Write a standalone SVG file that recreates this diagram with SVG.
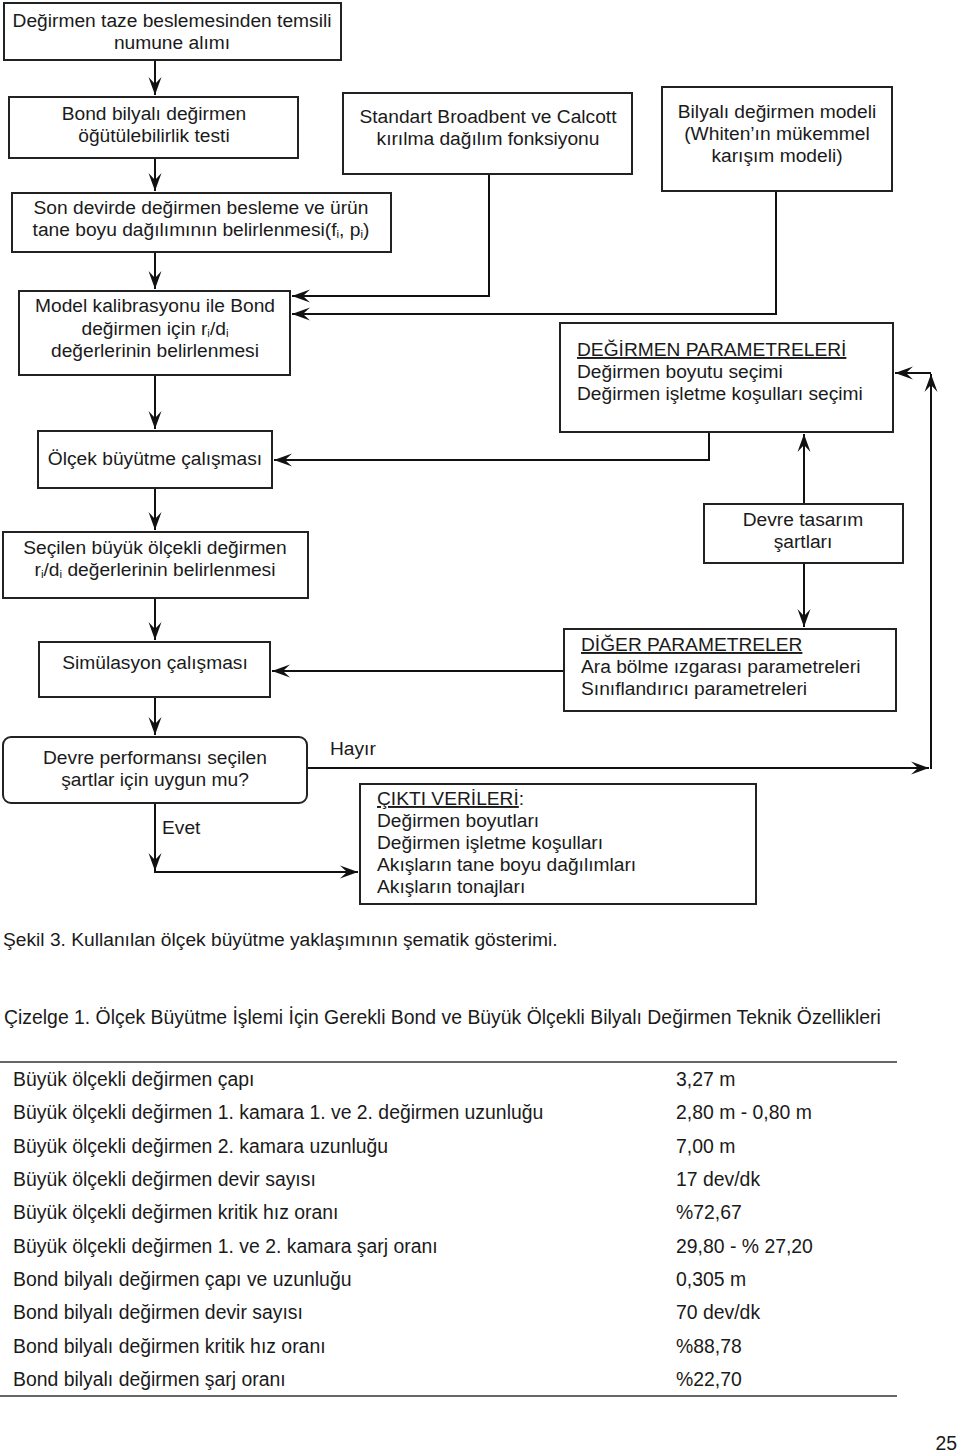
<svg xmlns="http://www.w3.org/2000/svg" width="960" height="1456" viewBox="0 0 960 1456">
<style>
.box{fill:#fff;stroke:#222;stroke-width:2}
.t{font-family:"Liberation Sans",Arial,sans-serif;font-size:19.2px;fill:#1a1a1a}
.c{text-anchor:middle}
.sub{font-size:11.5px}
.con{fill:none;stroke:#111;stroke-width:2}
.tb{font-family:"Liberation Sans",Arial,sans-serif;font-size:19.4px;fill:#1a1a1a}
.rule{stroke:#333;stroke-width:1.6}
</style>
<defs>
<marker id="ah" viewBox="-19 -8 20 16" refX="0" refY="0" markerWidth="20" markerHeight="16" markerUnits="userSpaceOnUse" orient="auto">
<path d="M0,0 L-18,-6.5 L-11,0 L-18,6.5 Z" fill="#111"/>
</marker>
</defs>
<rect width="960" height="1456" fill="#fff"/>

<g id="connectors">
<path class="con" d="M155,60 V95" marker-end="url(#ah)"/>
<path class="con" d="M155,158 V191" marker-end="url(#ah)"/>
<path class="con" d="M155,252 V289" marker-end="url(#ah)"/>
<path class="con" d="M489,174 V296 H292" marker-end="url(#ah)"/>
<path class="con" d="M776,191 V314 H292" marker-end="url(#ah)"/>
<path class="con" d="M155,375 V429" marker-end="url(#ah)"/>
<path class="con" d="M709,432 V460 H274" marker-end="url(#ah)"/>
<path class="con" d="M155,488 V530" marker-end="url(#ah)"/>
<path class="con" d="M804,504 V434" marker-end="url(#ah)"/>
<path class="con" d="M804,563 V627" marker-end="url(#ah)"/>
<path class="con" d="M564,671 H272" marker-end="url(#ah)"/>
<path class="con" d="M155,598 V640" marker-end="url(#ah)"/>
<path class="con" d="M155,697 V735" marker-end="url(#ah)"/>
<path class="con" d="M307,768 H929" marker-end="url(#ah)"/>
<path class="con" d="M931,769 V374" marker-end="url(#ah)"/>
<path class="con" d="M931,373 H895" marker-end="url(#ah)"/>
<path class="con" d="M155,803 V871" marker-end="url(#ah)"/>
<path class="con" d="M154,872 H358" marker-end="url(#ah)"/>
<text class="t" x="330" y="755">Hayır</text>
<text class="t" x="162" y="834">Evet</text>
</g>

<g id="n1">
<rect class="box" x="4" y="3" width="337" height="57"/>
<text class="t c" x="172" y="27">Değirmen taze beslemesinden temsili</text>
<text class="t c" x="172" y="49">numune alımı</text>
</g>
<g id="n2">
<rect class="box" x="9" y="97" width="289" height="61"/>
<text class="t c" x="154" y="120">Bond bilyalı değirmen</text>
<text class="t c" x="154" y="142">öğütülebilirlik testi</text>
</g>
<g id="n3">
<rect class="box" x="343" y="93" width="289" height="81"/>
<text class="t c" x="488" y="123">Standart Broadbent ve Calcott</text>
<text class="t c" x="488" y="145">kırılma dağılım fonksiyonu</text>
</g>
<g id="n4">
<rect class="box" x="662" y="87" width="230" height="104"/>
<text class="t c" x="777" y="118">Bilyalı değirmen modeli</text>
<text class="t c" x="777" y="140">(Whiten’ın mükemmel</text>
<text class="t c" x="777" y="162">karışım modeli)</text>
</g>
<g id="n5">
<rect class="box" x="12" y="193" width="379" height="59"/>
<text class="t c" x="201" y="214">Son devirde değirmen besleme ve ürün</text>
<text class="t c" x="201" y="236">tane boyu dağılımının belirlenmesi(f<tspan class="sub" dy="2">i</tspan><tspan dy="-2">, p</tspan><tspan class="sub" dy="2">i</tspan><tspan dy="-2">)</tspan></text>
</g>
<g id="n6">
<rect class="box" x="19" y="291" width="271" height="84"/>
<text class="t c" x="155" y="312">Model kalibrasyonu ile Bond</text>
<text class="t c" x="155" y="335">değirmen için r<tspan class="sub" dy="2">i</tspan><tspan dy="-2">/d</tspan><tspan class="sub" dy="2">i</tspan></text>
<text class="t c" x="155" y="357">değerlerinin belirlenmesi</text>
</g>
<g id="n7">
<rect class="box" x="560" y="323" width="333" height="109"/>
<text class="t" x="577" y="356" text-decoration="underline">DEĞİRMEN PARAMETRELERİ</text>
<text class="t" x="577" y="378">Değirmen boyutu seçimi</text>
<text class="t" x="577" y="400">Değirmen işletme koşulları seçimi</text>
</g>
<g id="n8">
<rect class="box" x="38" y="431" width="234" height="57"/>
<text class="t c" x="155" y="465">Ölçek büyütme çalışması</text>
</g>
<g id="n9">
<rect class="box" x="3" y="532" width="305" height="66"/>
<text class="t c" x="155" y="554">Seçilen büyük ölçekli değirmen</text>
<text class="t c" x="155" y="576">r<tspan class="sub" dy="2">i</tspan><tspan dy="-2">/d</tspan><tspan class="sub" dy="2">i</tspan><tspan dy="-2"> değerlerinin belirlenmesi</tspan></text>
</g>
<g id="n10">
<rect class="box" x="704" y="504" width="199" height="59"/>
<text class="t c" x="803" y="526">Devre tasarım</text>
<text class="t c" x="803" y="548">şartları</text>
</g>
<g id="n11">
<rect class="box" x="564" y="629" width="332" height="82"/>
<text class="t" x="581" y="651" text-decoration="underline">DİĞER PARAMETRELER</text>
<text class="t" x="581" y="673">Ara bölme ızgarası parametreleri</text>
<text class="t" x="581" y="695">Sınıflandırıcı parametreleri</text>
</g>
<g id="n12">
<rect class="box" x="39" y="642" width="231" height="55"/>
<text class="t c" x="155" y="669">Simülasyon çalışması</text>
</g>
<g id="n13">
<rect class="box" x="3" y="737" width="304" height="66" rx="8" ry="8"/>
<text class="t c" x="155" y="764">Devre performansı seçilen</text>
<text class="t c" x="155" y="786">şartlar için uygun mu?</text>
</g>
<g id="n14">
<rect class="box" x="360" y="784" width="396" height="120"/>
<text class="t" x="377" y="805"><tspan text-decoration="underline">ÇIKTI VERİLERİ</tspan>:</text>
<text class="t" x="377" y="827">Değirmen boyutları</text>
<text class="t" x="377" y="849">Değirmen işletme koşulları</text>
<text class="t" x="377" y="871">Akışların tane boyu dağılımları</text>
<text class="t" x="377" y="893">Akışların tonajları</text>
</g>

<g id="caption">
<text class="t" x="3" y="946">Şekil 3. Kullanılan ölçek büyütme yaklaşımının şematik gösterimi.</text>
</g>

<g id="table">
<text class="tb" x="4" y="1024">Çizelge 1. Ölçek Büyütme İşlemi İçin Gerekli Bond ve Büyük Ölçekli Bilyalı Değirmen Teknik Özellikleri</text>
<line class="rule" x1="0" y1="1062" x2="897" y2="1062"/>
<line class="rule" x1="0" y1="1396" x2="897" y2="1396"/>
<text class="tb" x="13" y="1086">Büyük ölçekli değirmen çapı</text>
<text class="tb" x="676" y="1086">3,27 m</text>
<text class="tb" x="13" y="1119">Büyük ölçekli değirmen 1. kamara 1. ve 2. değirmen uzunluğu</text>
<text class="tb" x="676" y="1119">2,80 m - 0,80 m</text>
<text class="tb" x="13" y="1153">Büyük ölçekli değirmen 2. kamara uzunluğu</text>
<text class="tb" x="676" y="1153">7,00 m</text>
<text class="tb" x="13" y="1186">Büyük ölçekli değirmen devir sayısı</text>
<text class="tb" x="676" y="1186">17 dev/dk</text>
<text class="tb" x="13" y="1219">Büyük ölçekli değirmen kritik hız oranı</text>
<text class="tb" x="676" y="1219">%72,67</text>
<text class="tb" x="13" y="1253">Büyük ölçekli değirmen 1. ve 2. kamara şarj oranı</text>
<text class="tb" x="676" y="1253">29,80 - % 27,20</text>
<text class="tb" x="13" y="1286">Bond bilyalı değirmen çapı ve uzunluğu</text>
<text class="tb" x="676" y="1286">0,305 m</text>
<text class="tb" x="13" y="1319">Bond bilyalı değirmen devir sayısı</text>
<text class="tb" x="676" y="1319">70 dev/dk</text>
<text class="tb" x="13" y="1353">Bond bilyalı değirmen kritik hız oranı</text>
<text class="tb" x="676" y="1353">%88,78</text>
<text class="tb" x="13" y="1386">Bond bilyalı değirmen şarj oranı</text>
<text class="tb" x="676" y="1386">%22,70</text>
<text class="tb" x="957" y="1450" font-size="24" text-anchor="end">25</text>
</g>
</svg>
